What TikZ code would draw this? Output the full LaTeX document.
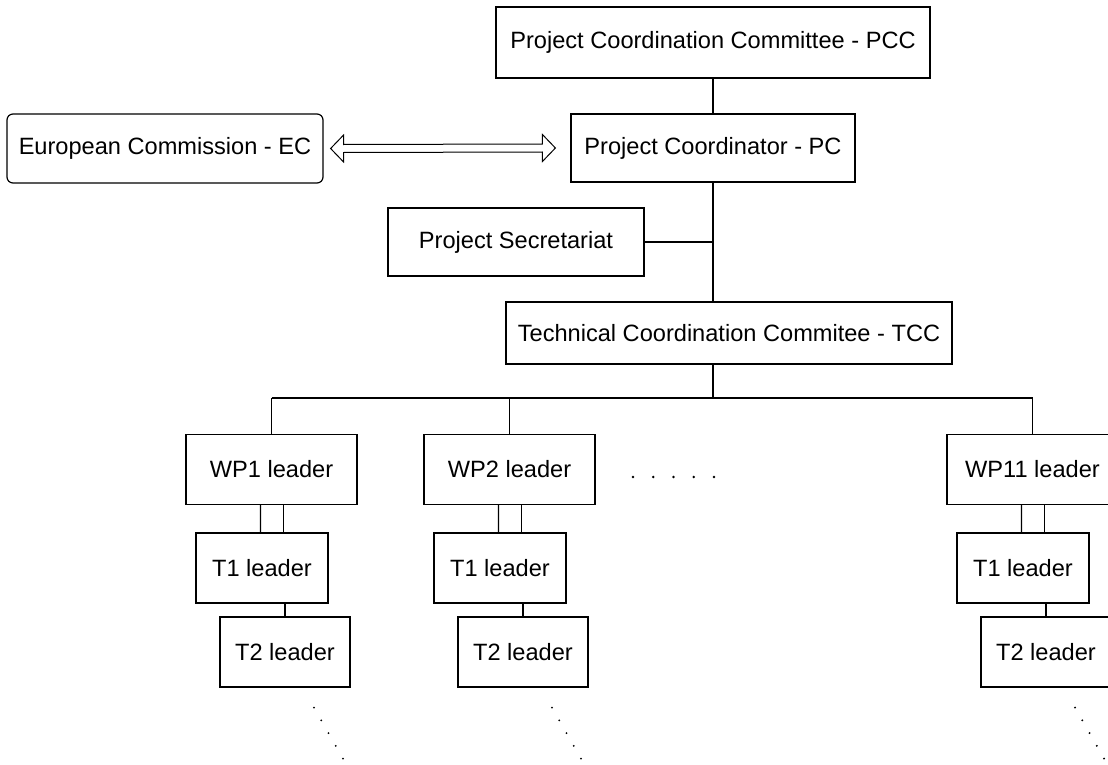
\documentclass[tikz,border=0pt]{standalone}
\usepackage{fontspec}
\setmainfont{Liberation Sans}
\usetikzlibrary{calc}
\tikzset{
  box/.style={draw, line width=1.2bp, rectangle, inner sep=0pt, text=black,
    font=\fontsize{23.6bp}{28bp}\selectfont},
  wire/.style={line width=1.2bp},
  wpbox/.style={box, minimum width=171bp, minimum height=70bp},
  taskbox/.style={box, minimum height=70bp}
}
\begin{document}
\begin{tikzpicture}[x=1bp,y=-1bp]
\useasboundingbox (0,0) rectangle (1108,765);
\clip (0,0) rectangle (1108,765);

\node[box, minimum width=434bp, minimum height=71bp] (pcc) at (713,42.5) {Project Coordination Committee - PCC};
\node[box, rounded corners=6bp, minimum width=316bp, minimum height=69bp] (ec) at (165,148.5) {European Commission - EC};
\node[box, minimum width=284bp, minimum height=68bp] (pc) at (713,148) {Project Coordinator - PC};
\node[box, minimum width=256bp, minimum height=68bp] (ps) at (516,242) {Project Secretariat};
\node[box, minimum width=446bp, minimum height=62bp] (tcc) at (729,333) {Technical Coordination Commitee - TCC};

% spine
\draw[wire] (pcc.south) -- (pc.north);
\draw[wire] (pc.south) -- (pc.south |- tcc.north);
\draw[wire] (ps.east) -- (ps.east -| pc.south);
\coordinate (bus) at (713,398);
\draw[wire] (tcc.south -| pc.south) -- (bus);

% double arrow EC <-> PC
\coordinate (aL) at ($(ec.east)+(7,0)$);
\coordinate (aR) at ($(pc.west)+(-15,0)$);
\draw[line width=1bp, line join=miter] (aL) -- ++(13,-13.5) -- ++(0,9.5) -- ($(aR)+(-13,-4)$) -- ++(0,-9.5) -- (aR)
  -- ++(-13,13.5) -- ++(0,-9.5) -- ($(aL)+(13,4)$) -- ++(0,9.5) -- cycle;

% work packages
\foreach \n/\x in {1/271.5, 2/509.5, 11/1032.5}{
  \node[wpbox] (wp\n) at (\x,469.5) {WP\n{} leader};
  \node[taskbox, minimum width=132bp] (ta\n) at (\x-9.5,568) {T1 leader};
  \node[taskbox, minimum width=130bp] (tb\n) at (\x+13.5,652) {T2 leader};
  \draw[wire] (wp\n.north) -- (wp\n.north |- bus);
  \draw[wire] ($(wp\n.south)+(-11,0)$) -- ($(ta\n.north)+(-1.5,0)$);
  \draw[wire] ($(wp\n.south)+(12,0)$) -- ($(ta\n.north)+(21.5,0)$);
  \draw[wire] ($(ta\n.south)+(23,0)$) -- (tb\n.north);
  \foreach \i in {0,...,4}{
    \fill ($(tb\n.south)+(29+7.25*\i,20+12.75*\i)$) circle (1.1bp);
  }
}
\draw[wire] (wp1.north |- bus) -- (wp11.north |- bus);

% ellipsis between WP2 and WP11
\foreach \i in {0,...,4}{
  \fill (633+20.25*\i,477) circle (1.4bp);
}
\end{tikzpicture}
\end{document}
